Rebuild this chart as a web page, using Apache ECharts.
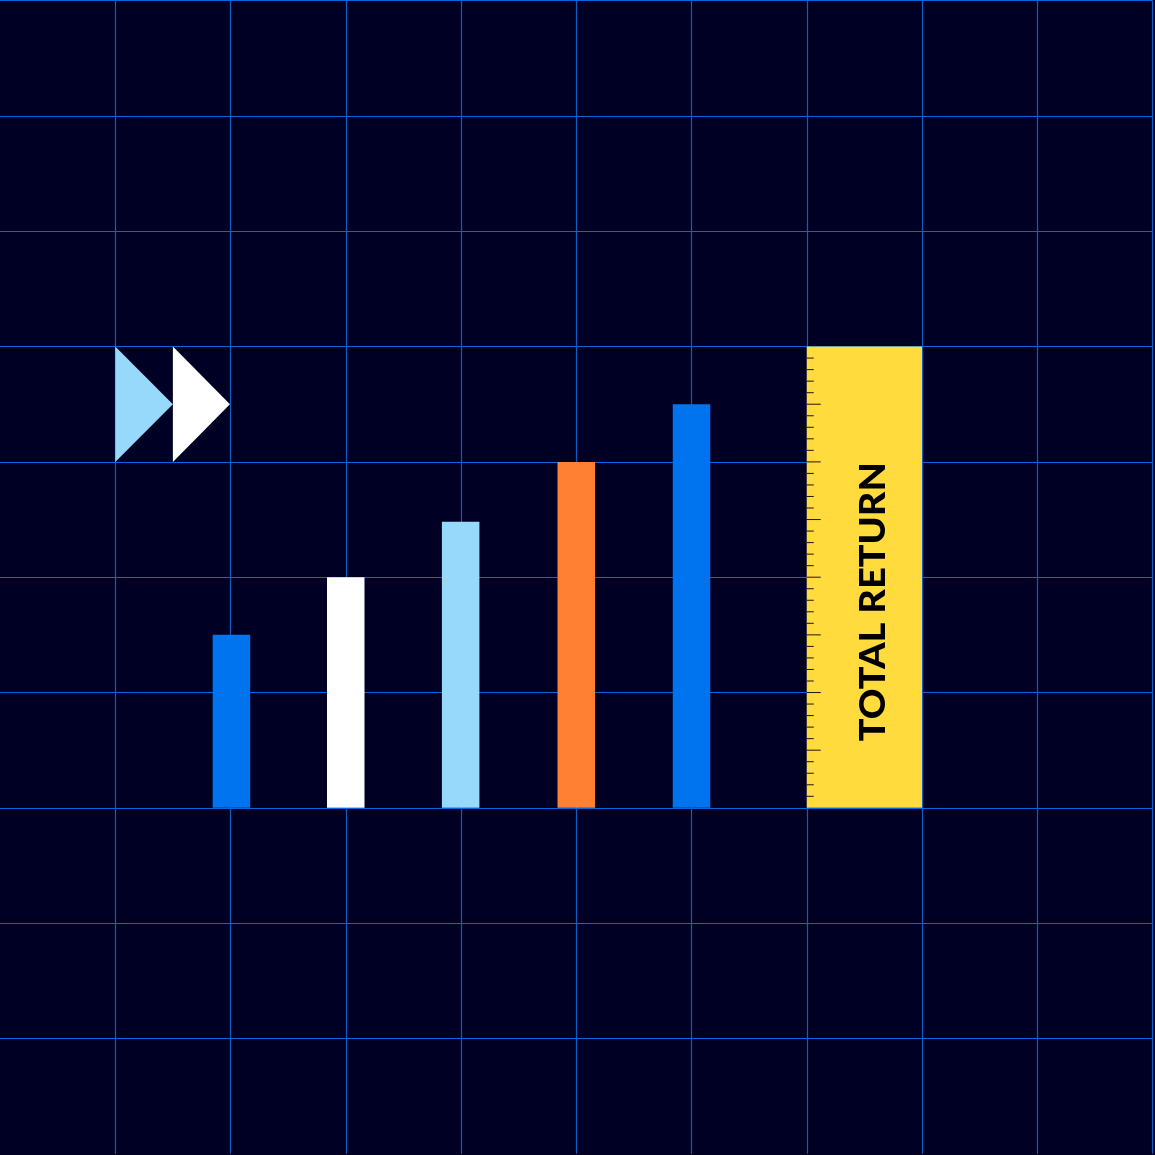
<!DOCTYPE html>
<html><head><meta charset="utf-8">
<style>html,body{margin:0;padding:0;background:#000025}#c{width:1155px;height:1155px}</style>
<script src="https://cdn.jsdelivr.net/npm/echarts@6/dist/echarts.min.js"></script>
</head><body><div id="c"></div>
<script>
const barX=[2.008,3,3.997,5,6];
const barValues=[1.5,2,2.48,3,3.5];
const barColors=['#0073EE','#FFFFFF','#96D9FA','#FF8033','#0073EE'];
const rulerStart=[7];
const rulerEnd=[8];
const rulerTop=[4];
const rulerTicks=[0.1,0.2,0.3,0.4,0.5,0.6,0.7,0.8,0.9,1,1.1,1.2,1.3,1.4,1.5,1.6,1.7,1.8,1.9,2,2.1,2.2,2.3,2.4,2.5,2.6,2.7,2.8,2.9,3,3.1,3.2,3.3,3.4,3.5,3.6,3.7,3.8,3.9];
const majorTicks=[0.5,1,1.5,2,2.5,3,3.5];
const arrows=[{x0:1,x1:1.5,color:'#96D9FA'},{x0:1.5,x1:1.995,color:'#FFFFFF'}];
const arrowLow=[3];
const arrowHigh=[4];
const rulerLabel=['TOTAL RETURN'];

const chart=echarts.init(document.getElementById('c'),null,{renderer:'canvas'});
chart.setOption({
  backgroundColor:'#000025',animation:false,
  grid:{left:-0.5,top:0.6,width:1153,height:1153.2,containLabel:false},
  xAxis:{type:'value',min:0,max:10,interval:1,axisLine:{show:false},axisTick:{show:false},axisLabel:{show:false},
    splitLine:{show:true,showMinLine:false,lineStyle:{color:'#0F5CC4',width:1.2}}},
  yAxis:{type:'value',min:-3,max:7,interval:1,axisLine:{show:false},axisTick:{show:false},axisLabel:{show:false},
    splitLine:{show:true,showMinLine:false,lineStyle:{color:'#0A66E0',width:1.2}}},
  series:[
    {type:'custom',coordinateSystem:'cartesian2d',silent:true,z:3,
     data:[[rulerStart[0],rulerEnd[0],rulerTop[0]]],
     renderItem(p,api){
       const a=api.coord([api.value(0),api.value(2)]),b=api.coord([api.value(1),0]);
       return {type:'rect',shape:{x:a[0],y:a[1],width:b[0]-a[0],height:b[1]-a[1]},style:{fill:'#FFDB3D'}};
     }},
    {type:'custom',coordinateSystem:'cartesian2d',silent:true,z:4,
     data:rulerTicks.map(v=>[rulerStart[0],v]),
     renderItem(p,api){
       const v=api.value(1),c=api.coord([api.value(0),v]);
       const len=majorTicks.includes(v)?14:7;
       return {type:'line',shape:{x1:c[0],y1:c[1],x2:c[0]+len,y2:c[1]},style:{stroke:'#1a1a10',lineWidth:1}};
     }},
    {type:'custom',coordinateSystem:'cartesian2d',silent:true,z:5,
     data:[[(rulerStart[0]+rulerEnd[0])/2+0.077,rulerTop[0]/2-0.213]],
     renderItem(p,api){
       const c=api.coord([api.value(0),api.value(1)]);
       return {type:'text',x:c[0],y:c[1],rotation:Math.PI/2,scaleX:1.053,
         style:{text:rulerLabel[0],fill:'#000',font:'900 36px Lato',align:'center',verticalAlign:'middle'}};
     }},
    {type:'custom',coordinateSystem:'cartesian2d',silent:true,z:3,
     data:arrows.map(a=>[a.x0,a.x1,arrowLow[0],arrowHigh[0]]),
     renderItem(p,api){
       const x0=api.value(0),x1=api.value(1),lo=api.value(2),hi=api.value(3);
       return {type:'polygon',shape:{points:[api.coord([x0,hi]),api.coord([x1,(lo+hi)/2]),api.coord([x0,lo])]},
         style:{fill:arrows[p.dataIndex].color}};
     }},
    {type:'bar',barWidth:37.5,z:3,silent:true,
     data:barValues.map((v,i)=>({value:[barX[i],v],itemStyle:{color:barColors[i]}}))}
  ]
});
</script></body></html>
